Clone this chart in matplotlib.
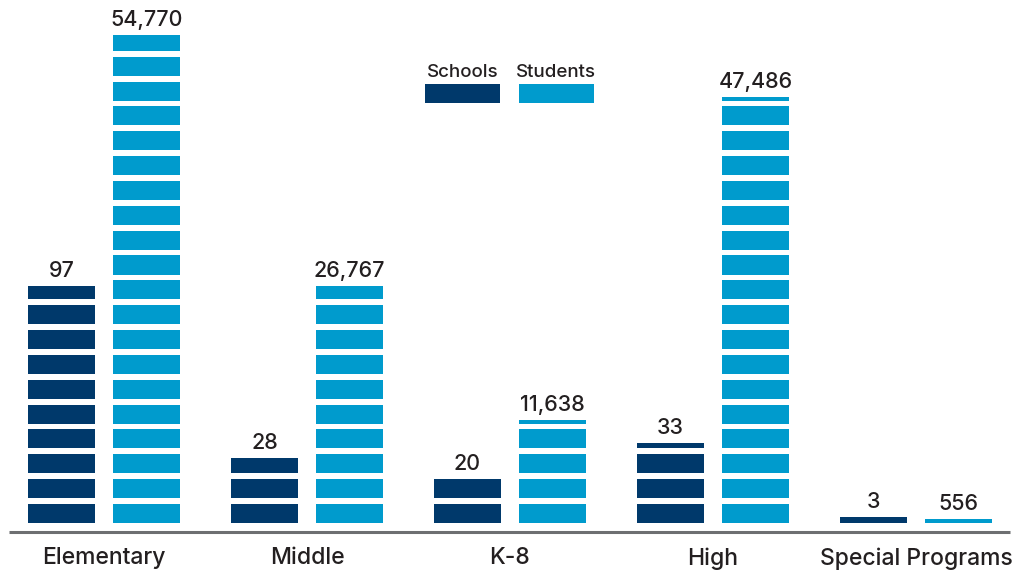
import numpy as np
import matplotlib.pyplot as plt
from matplotlib.patches import Rectangle

# data
categories = ['Elementary', 'Middle', 'K-8', 'High', 'Special Programs']
schools = [97, 28, 20, 33, 3]
students = [54770, 26767, 11638, 47486, 556]

# each block in the picture stands for this many (estimated)
SCHOOLS_PER_BLOCK = 10
STUDENTS_PER_BLOCK = 2765

navy = '#00396b'
blue = '#009bcd'
txt = '#231f20'

plt.rcParams['font.family'] = ['Inter', 'DejaVu Sans']
plt.rcParams['font.weight'] = 500

fig = plt.figure(figsize=(10.13, 5.70), dpi=100)
ax = fig.add_axes([0, 0, 1, 1])
ax.set_xlim(-0.512, 4.478)
ax.set_ylim(-1.891, 21.046)
ax.axis('off')

x = np.arange(len(categories))
w = 0.33      # bar width
off = 0.2094  # half distance between the two bars of a group
seg = 0.765   # block height, the rest of one unit is the white gap


def blocks(xpos, values, per_block, color):
    for xi, v in zip(xpos, values):
        units = v / per_block
        full = int(units)
        bottoms = list(range(full))
        heights = [seg] * full
        frac = units - full
        if frac > 0:
            bottoms.append(full)
            heights.append(frac * seg)
        ax.bar([xi] * len(bottoms), heights, width=w, bottom=bottoms,
               color=color, linewidth=0)
        top = bottoms[-1] + heights[-1]
        ax.annotate(f'{v:,}', (xi, top), xytext=(0, 6.5), textcoords='offset points',
                    ha='center', va='baseline', fontsize=15.5, color=txt)


blocks(x - off, schools, SCHOOLS_PER_BLOCK, navy)
blocks(x + off, students, STUDENTS_PER_BLOCK, blue)

# baseline
ax.plot([-0.468, 4.463], [-0.342, -0.342], color='#6d6f71', lw=2.2,
        solid_capstyle='butt')

for xi, c in zip(x, categories):
    ax.text(xi, -1.42, c, ha='center', va='center', fontsize=16.5, color=txt)

# legend on top, label above the swatch
for lx, lab, col in [(1.581, 'Schools', navy), (2.044, 'Students', blue)]:
    ax.add_patch(Rectangle((lx, 16.9), 0.369, seg, color=col, linewidth=0))
    ax.text(lx + 0.1845, 17.95, lab, ha='center', va='baseline', fontsize=13.5, color=txt)

fig.savefig('out.png', dpi=100)
